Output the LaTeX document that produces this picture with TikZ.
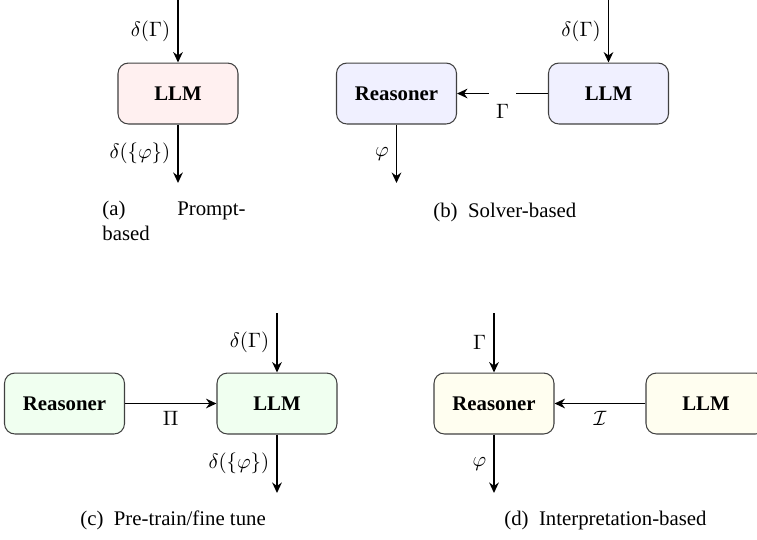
\documentclass[tikz,border=0pt]{standalone}
\usepackage{fontspec}
\setmainfont{Liberation Serif}
\usetikzlibrary{arrows.meta}
\begin{document}
\begin{tikzpicture}[x=0.4808pt,y=-0.4808pt,
  box/.style={draw=black!75, line width=0.5pt, rounded corners=5pt,
    minimum width=57.7pt, minimum height=29.3pt, font=\bfseries, inner sep=0pt},
  arr/.style={line width=0.9pt, -{Stealth[length=5pt,width=4.6pt,inset=1.6pt]}},
  captext/.style={anchor=base west, inner sep=0pt}]
\clip (0,0) rectangle (757,539);
% (a)
\node[box, fill=red!6] (aL) at (178,93.5) {LLM};
\coordinate (aIn) at (178,0);
\coordinate (aOut) at (178,183);
\draw[arr] (aIn) -- node[left]{$\delta(\Gamma)$} (aL);
\draw[arr] (aL) -- node[left]{$\delta(\{\varphi\})$} (aOut);
\node[anchor=north west, inner sep=0pt, align=left, text width=68.8pt] (capA) at (102,201) {(a)\hfill Prompt-\\based};
% (b)
\node[box, fill=blue!6] (bR) at (396.5,93.5) {Reasoner};
\node[box, fill=blue!6] (bL) at (608.5,93.5) {LLM};
\coordinate (bIn) at (608.5,0);
\coordinate (bOut) at (396.5,183);
\draw[arr] (bIn) -- node[left]{$\delta(\Gamma)$} (bL);
\draw[arr] (bL) -- node[below, fill=white, inner ysep=5.5pt, yshift=1pt]{$\Gamma$} (bR);
\draw[arr] (bR) -- node[left]{$\varphi$} (bOut);
\node[captext] (capB) at (433,217) {(b)\enspace Solver-based};
% (c)
\node[box, fill=green!6] (cR) at (64.5,403.5) {Reasoner};
\node[box, fill=green!6] (cL) at (277,403.5) {LLM};
\coordinate (cIn) at (277,313);
\coordinate (cOut) at (277,493);
\draw[arr] (cR) -- node[below]{$\Pi$} (cL);
\draw[arr] (cIn) -- node[left]{$\delta(\Gamma)$} (cL);
\draw[arr] (cL) -- node[left]{$\delta(\{\varphi\})$} (cOut);
\node[captext] (capC) at (80,525) {(c)\enspace Pre-train/fine tune};
% (d)
\node[box, fill=yellow!6] (dR) at (494,403.5) {Reasoner};
\node[box, fill=yellow!6] (dL) at (706,403.5) {LLM};
\coordinate (dIn) at (494,313);
\coordinate (dOut) at (494,493);
\draw[arr] (dL) -- node[below]{$\mathcal{I}$} (dR);
\draw[arr] (dIn) -- node[left]{$\Gamma$} (dR);
\draw[arr] (dR) -- node[left]{$\varphi$} (dOut);
\node[captext] (capD) at (504,525) {(d)\enspace Interpretation-based};
\end{tikzpicture}
\end{document}
